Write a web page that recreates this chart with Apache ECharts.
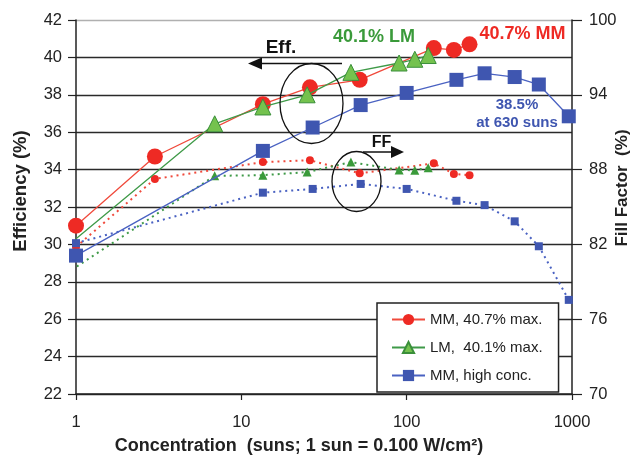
<!DOCTYPE html>
<html>
<head>
<meta charset="utf-8">
<script src="https://cdn.jsdelivr.net/npm/echarts@6/dist/echarts.min.js"></script>
<style>html,body{margin:0;padding:0;background:#fff;}#c{width:637px;height:459px;}</style>
</head>
<body>
<div id="c"></div>
<script>
// ---- data ----
const mmX   = [1, 3, 13.5, 26, 52, 146, 193, 240];
const mmEff = [31.0, 34.7, 37.5, 38.4, 38.8, 40.5, 40.4, 40.7];
const mmFF  = [81.8, 87.25, 88.6, 88.75, 87.7, 88.5, 87.65, 87.55];

const lmX    = [1, 6.9, 13.5, 25, 46, 90, 112, 135];
const lmEff  = [30.3, 36.45, 37.35, 38.0, 39.2, 39.7, 39.9, 40.1];
const lmFFX  = [0.88, 6.9, 13.5, 25, 46, 90, 112, 135];
const lmFF   = [79.7, 87.5, 87.55, 87.8, 88.6, 87.97, 87.95, 88.15];

const hcX   = [1, 13.5, 27, 52.7, 100, 200, 296, 450, 630, 956];
const hcEff = [29.4, 35.0, 36.25, 37.45, 38.1, 38.8, 39.15, 38.95, 38.55, 36.85];
const hcFF  = [82.1, 86.15, 86.45, 86.85, 86.45, 85.5, 85.15, 83.85, 81.85, 77.55];

const seriesNames = ['MM, 40.7% max.', 'LM,  40.1% max.', 'MM, high conc.'];
const effTicks = {min: 22, max: 42, interval: 2};
const ffTicks  = {min: 70, max: 100, interval: 6};
const xRange   = {min: 1, max: 1000};

// ---- styling ----
const FONT = '"Liberation Sans", Arial, sans-serif';
const RED = '#ee2a24', RED_LINE = '#f04a3c';
const GREEN_FILL = '#74c24e', GREEN_EDGE = '#3a8f3a', GREEN_LINE = '#3f9a48', GREEN_TXT = '#3a9a3a';
const BLUE = '#3f56b0', BLUE_LINE = '#4a62c2';
const AX = '#222';

function pairs(xs, ys) { return xs.map((x, i) => [x, ys[i]]); }

const gridColors = [];
for (let v = effTicks.min; v <= effTicks.max; v += effTicks.interval) gridColors.push(v === effTicks.max ? '#b0b0b0' : '#2a2a2a');

const lmEffData = pairs(lmX, lmEff).map((p, i) => i === 0 ? {value: p, symbol: 'none'} : p);
const lmFFData = pairs(lmFFX, lmFF).map((p, i) => i === 0 ? {value: p, symbol: 'none'} : p);

const dotted = [2, 4];

const option = {
  animation: false,
  backgroundColor: '#fff',
  grid: {left: 76, right: 65, top: 20, bottom: 65},
  xAxis: {
    type: 'log', logBase: 10, min: xRange.min, max: xRange.max,
    axisLine: {show: true, onZero: false, lineStyle: {color: AX, width: 1.5}},
    axisTick: {show: true, length: 6, lineStyle: {color: AX, width: 1.2}},
    minorTick: {show: false},
    splitLine: {show: false},
    axisLabel: {fontSize: 16.5, color: AX, margin: 20, fontFamily: FONT, formatter: v => String(Math.round(v))}
  },
  yAxis: [
    {
      type: 'value', min: effTicks.min, max: effTicks.max, interval: effTicks.interval,
      axisLine: {show: true, lineStyle: {color: AX, width: 1.5}},
      axisTick: {show: true, length: 8, lineStyle: {color: AX, width: 1.2}},
      splitLine: {show: true, lineStyle: {color: gridColors, width: 1.3}},
      axisLabel: {fontSize: 16.5, color: AX, margin: 14, fontFamily: FONT}
    },
    {
      type: 'value', position: 'right', min: ffTicks.min, max: ffTicks.max, interval: ffTicks.interval,
      axisLine: {show: true, lineStyle: {color: AX, width: 1.5}},
      axisTick: {show: true, length: 10, lineStyle: {color: AX, width: 1.2}},
      splitLine: {show: false},
      axisLabel: {fontSize: 16.5, color: AX, margin: 17, fontFamily: FONT}
    }
  ],
  legend: {
    data: seriesNames,
    orient: 'vertical', left: 377, top: 303,
    itemWidth: 33, itemHeight: 14, itemGap: 13,
    padding: [9, 16, 9, 14],
    backgroundColor: '#fff', borderColor: AX, borderWidth: 1.5, borderRadius: 0,
    textStyle: {fontSize: 15, color: AX, fontFamily: FONT}
  },
  series: [
    // FF (dotted, right axis)
    {name: 'MM FF', type: 'line', yAxisIndex: 1, data: pairs(mmX, mmFF), symbol: 'circle', symbolSize: 8,
     itemStyle: {color: RED}, lineStyle: {color: RED_LINE, width: 2, type: dotted}, z: 2},
    {name: 'LM FF', type: 'line', yAxisIndex: 1, data: lmFFData, symbol: 'triangle', symbolSize: 9, clip: false,
     itemStyle: {color: '#3a9a3a'}, lineStyle: {color: GREEN_LINE, width: 2, type: dotted}, z: 2},
    {name: 'HC FF', type: 'line', yAxisIndex: 1, data: pairs(hcX, hcFF), symbol: 'rect', symbolSize: 8,
     itemStyle: {color: BLUE}, lineStyle: {color: BLUE_LINE, width: 2, type: dotted}, z: 2},
    // Efficiency (solid, left axis)
    {name: seriesNames[0], type: 'line', yAxisIndex: 0, data: pairs(mmX, mmEff), symbol: 'circle', symbolSize: 16,
     itemStyle: {color: RED}, lineStyle: {color: RED_LINE, width: 1.3}, z: 4},
    {name: seriesNames[1], type: 'line', yAxisIndex: 0, data: lmEffData, symbol: 'triangle', symbolSize: 16,
     itemStyle: {color: GREEN_FILL, borderColor: GREEN_EDGE, borderWidth: 1}, lineStyle: {color: GREEN_LINE, width: 1.3}, z: 5},
    {name: seriesNames[2], type: 'line', yAxisIndex: 0, data: pairs(hcX, hcEff), symbol: 'rect', symbolSize: 14,
     itemStyle: {color: BLUE}, lineStyle: {color: BLUE_LINE, width: 1.3}, z: 4}
  ],
  graphic: [
    // axis titles
    {type: 'text', x: 299, y: 446, z: 100, style: {text: 'Concentration  (suns; 1 sun = 0.100 W/cm²)', font: 'bold 18px ' + FONT, fill: AX, align: 'center', verticalAlign: 'middle'}},
    {type: 'text', x: 21, y: 191, rotation: Math.PI / 2, z: 100, style: {text: 'Efficiency (%)', font: 'bold 18.5px ' + FONT, fill: AX, align: 'center', verticalAlign: 'middle'}},
    {type: 'text', x: 622, y: 188, rotation: Math.PI / 2, z: 100, style: {text: 'Fill Factor  (%)', font: 'bold 17px ' + FONT, fill: AX, align: 'center', verticalAlign: 'middle'}},
    // Eff annotation
    {type: 'text', x: 281, y: 48, z: 100, style: {text: 'Eff.', font: 'bold 19px ' + FONT, fill: '#111', align: 'center', verticalAlign: 'middle'}},
    {type: 'line', z: 100, shape: {x1: 260, y1: 63.5, x2: 342, y2: 63.5}, style: {stroke: '#111', lineWidth: 1.5}},
    {type: 'polygon', z: 100, shape: {points: [[248, 63.5], [262, 57.5], [262, 69.5]]}, style: {fill: '#111'}},
    {type: 'ellipse', z: 100, shape: {cx: 311.5, cy: 103.5, rx: 31.5, ry: 40}, style: {fill: 'none', stroke: '#111', lineWidth: 1.3}},
    // FF annotation
    {type: 'text', x: 381.5, y: 143, z: 100, style: {text: 'FF', font: 'bold 16px ' + FONT, fill: '#111', align: 'center', verticalAlign: 'middle'}},
    {type: 'line', z: 100, shape: {x1: 363, y1: 152, x2: 393, y2: 152}, style: {stroke: '#111', lineWidth: 1.5}},
    {type: 'polygon', z: 100, shape: {points: [[404, 152], [391, 146], [391, 158]]}, style: {fill: '#111'}},
    {type: 'ellipse', z: 100, shape: {cx: 356.5, cy: 181.5, rx: 24.5, ry: 30}, style: {fill: 'none', stroke: '#111', lineWidth: 1.3}},
    // value callouts
    {type: 'text', x: 374, y: 37, z: 100, style: {text: '40.1% LM', font: 'bold 18px ' + FONT, fill: GREEN_TXT, align: 'center', verticalAlign: 'middle'}},
    {type: 'text', x: 522.5, y: 34, z: 100, style: {text: '40.7% MM', font: 'bold 18px ' + FONT, fill: RED, align: 'center', verticalAlign: 'middle'}},
    {type: 'text', x: 517, y: 105, z: 100, style: {text: '38.5%', font: 'bold 15px ' + FONT, fill: BLUE, align: 'center', verticalAlign: 'middle'}},
    {type: 'text', x: 517, y: 123, z: 100, style: {text: 'at 630 suns', font: 'bold 15px ' + FONT, fill: BLUE, align: 'center', verticalAlign: 'middle'}}
  ]
};

const chart = echarts.init(document.getElementById('c'), null, {renderer: 'canvas'});
chart.setOption(option);
</script>
</body>
</html>
